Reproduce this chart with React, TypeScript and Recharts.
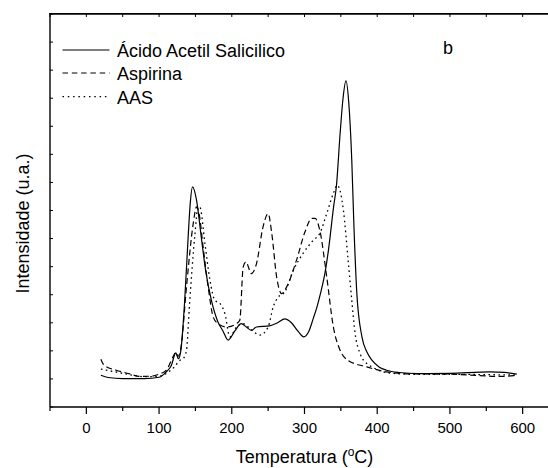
import React from 'react';
import { LineChart, Line, XAxis, YAxis, Legend } from 'recharts';

// Temperatures (°C) and intensities (a.u.)
const acidoT = [20, 30, 50, 80, 100, 110, 117, 123, 126.6, 130, 135, 140, 143, 146, 151.5, 158, 164, 172, 181, 188, 195, 204, 213, 220, 227, 234, 252, 263, 273, 282, 291, 299, 306, 312, 317, 322, 328, 333, 340, 344, 349, 353, 357, 361, 365, 368, 372, 379, 386, 393, 403, 413, 430, 457, 500, 555, 575, 592];
const acidoV = [1.13, 1.05, 1.01, 1.01, 1.06, 1.25, 1.49, 1.93, 1.72, 2.02, 3.69, 6.06, 7.3, 7.84, 7.37, 6.06, 4.87, 3.8, 3.03, 2.7, 2.38, 2.7, 2.97, 2.85, 2.73, 2.85, 2.89, 3.0, 3.14, 3.0, 2.7, 2.5, 2.7, 3.15, 3.55, 4.05, 4.75, 5.6, 7.13, 7.9, 9.75, 11.0, 11.62, 10.8, 8.8, 6.42, 4.04, 2.5, 1.95, 1.66, 1.42, 1.31, 1.23, 1.19, 1.2, 1.25, 1.23, 1.17];

const aspirinaT = [20, 24, 41, 60, 73, 90, 100, 110, 119, 123, 126, 130, 137.7, 147, 151.5, 155, 160.6, 167.5, 174.4, 181, 192.8, 206.6, 211, 215.7, 219.4, 227, 234, 243, 250, 255, 261.7, 268.6, 275.5, 289, 300.7, 310, 314.5, 321, 330.6, 339.7, 349, 360, 385.7, 413, 450, 500, 540, 569, 590];
const aspirinaV = [1.7, 1.5, 1.31, 1.18, 1.09, 1.1, 1.17, 1.31, 1.78, 1.95, 1.8, 2.1, 4.28, 6.54, 7.13, 6.9, 5.7, 4.28, 3.21, 2.97, 2.85, 2.97, 3.09, 4.99, 5.17, 4.75, 5.11, 6.42, 6.89, 6.18, 4.63, 4.04, 4.28, 5.23, 6.24, 6.72, 6.72, 6.3, 4.63, 2.85, 2.02, 1.66, 1.43, 1.25, 1.18, 1.17, 1.12, 1.09, 1.12];

const aasT = [20, 40, 60, 80, 100, 110, 120, 128.5, 134, 137.7, 142, 149, 153.7, 156, 163, 170, 176.7, 183.6, 190.5, 197.4, 206.6, 215.7, 225, 238.7, 250, 257, 264, 273, 284.6, 298, 312, 321, 330.6, 339.7, 345, 353.5, 360, 365, 369.6, 376.5, 385.7, 392.6, 405, 420, 460, 520, 560, 590];
const aasV = [1.35, 1.25, 1.15, 1.08, 1.1, 1.2, 1.4, 1.66, 1.75, 2.02, 3.69, 6.06, 7.13, 7.13, 5.83, 4.52, 3.8, 3.69, 3.33, 2.5, 2.85, 2.97, 2.79, 2.56, 2.85, 3.57, 3.92, 4.1, 4.87, 5.47, 5.94, 6.18, 6.89, 7.61, 7.9, 7.01, 5.23, 3.8, 2.62, 1.9, 1.55, 1.43, 1.28, 1.2, 1.16, 1.16, 1.15, 1.14];

const xTicks = [-50, 0, 50, 100, 150, 200, 250, 300, 350, 400, 450, 500, 550, 600, 650];
const yTicks = [0, 1, 2, 3, 4, 5, 6, 7, 8, 9, 10, 11, 12, 13, 14];
const xMin = -50;
const xMax = 650;
const yMax = 14;

const seriesNames = ['Ácido Acetil Salicilico', 'Aspirina', 'AAS'];
const xTitle = 'Temperatura (';
const yTitle = 'Intensidade (u.a.)';
const panelLabel = 'b';

const toPoints = (t: number[], v: number[]) => t.map((x, i) => ({ t: x, v: v[i] }));
const acidoData = toPoints(acidoT, acidoV);
const aspirinaData = toPoints(aspirinaT, aspirinaV);
const aasData = toPoints(aasT, aasV);

const FONT = '"Liberation Sans", Arial, sans-serif';
const DASH = '6 3.5';
const DOT = '1.6 3.4';
const PLOT_TOP = 14;
const PLOT_LEFT = 50;

const BottomTick = (props: any) => {
  const { x, y, payload } = props;
  const major = payload.value % 100 === 0;
  return (
    <g>
      <line x1={x} x2={x} y1={y} y2={y + (major ? 7 : 4)} stroke="#000" strokeWidth={1.2} />
      <line x1={x} x2={x} y1={PLOT_TOP} y2={PLOT_TOP + 3} stroke="#000" strokeWidth={1} />
      {major && (
        <text x={x} y={y + 26} textAnchor="middle" fontSize={15} fontFamily={FONT} fill="#000">
          {payload.value}
        </text>
      )}
    </g>
  );
};

const LeftTick = (props: any) => {
  const { x, y } = props;
  return <line x1={x} x2={x + 3} y1={y} y2={y} stroke="#000" strokeWidth={1} />;
};

const XTitle = (props: any) => {
  const vb = props.viewBox || { x: 50, width: 509 };
  const cx = vb.x + vb.width / 2;
  return (
    <g>
      <line x1={vb.x} x2={vb.x + vb.width} y1={PLOT_TOP} y2={PLOT_TOP} stroke="#000" strokeWidth={1.4} />
      <text x={cx} y={463} textAnchor="middle" fontSize={18} fontFamily={FONT} fill="#000">
        {xTitle}
        <tspan dy={-7} fontSize={12}>o</tspan>
        <tspan dy={7}>C)</tspan>
      </text>
      <text x={448} y={53.5} textAnchor="middle" fontSize={18} fontFamily={FONT} fill="#000">
        {panelLabel}
      </text>
    </g>
  );
};

const YTitle = () => (
  <text
    x={23}
    y={223.5}
    transform="rotate(-90 23 223.5)"
    textAnchor="middle"
    dominantBaseline="central"
    fontSize={18}
    fontFamily={FONT}
    fill="#000"
  >
    {yTitle}
  </text>
);

const LegendContent = () => {
  const rows = [
    { y: 50, dash: undefined as string | undefined },
    { y: 73, dash: '5.5 3.8' },
    { y: 96.7, dash: '1.5 3.8' },
  ];
  return (
    <svg width={320} height={110} style={{ display: 'block' }}>
      {rows.map((r, i) => (
        <g key={i}>
          <line x1={62.5} x2={109.5} y1={r.y} y2={r.y} stroke="#000" strokeWidth={1.2} strokeDasharray={r.dash} />
          <text x={117} y={r.y + 7} fontSize={18} fontFamily={FONT} fill="#000">
            {seriesNames[i]}
          </text>
        </g>
      ))}
    </svg>
  );
};

export default function App() {
  return (
    <div style={{ position: 'absolute', left: 0, top: 0, width: 548, height: 468, overflow: 'hidden', background: '#fff' }}>
      <LineChart width={570} height={468} margin={{ top: PLOT_TOP, right: 11, left: PLOT_LEFT - 1, bottom: 21 }}>
        <XAxis
          dataKey="t"
          type="number"
          domain={[xMin, xMax]}
          ticks={xTicks}
          allowDataOverflow
          interval={0}
          height={40}
          tickSize={0}
          tickMargin={0}
          tickLine={false}
          tick={<BottomTick />}
          axisLine={{ stroke: '#000', strokeWidth: 1.4 }}
          label={<XTitle />}
        />
        <YAxis
          type="number"
          domain={[0, yMax]}
          ticks={yTicks}
          allowDataOverflow
          interval={0}
          width={1}
          tickSize={0}
          tickMargin={0}
          tickLine={false}
          tick={<LeftTick />}
          axisLine={{ stroke: '#000', strokeWidth: 1.4 }}
          label={<YTitle />}
        />
        <Legend
          layout="vertical"
          align="center"
          verticalAlign="middle"
          content={<LegendContent />}
          wrapperStyle={{ position: 'absolute', left: 0, top: 0, width: 320, height: 110 }}
        />
        <Line
          data={acidoData}
          dataKey="v"
          name={seriesNames[0]}
          type="monotone"
          stroke="#000"
          strokeWidth={1.2}
          dot={false}
          isAnimationActive={false}
        />
        <Line
          data={aspirinaData}
          dataKey="v"
          name={seriesNames[1]}
          type="monotone"
          stroke="#000"
          strokeWidth={1.2}
          strokeDasharray={DASH}
          dot={false}
          isAnimationActive={false}
        />
        <Line
          data={aasData}
          dataKey="v"
          name={seriesNames[2]}
          type="monotone"
          stroke="#000"
          strokeWidth={1.3}
          strokeDasharray={DOT}
          dot={false}
          isAnimationActive={false}
        />
      </LineChart>
      <div
        style={{
          position: 'absolute',
          left: PLOT_LEFT - 1,
          top: PLOT_TOP - 1,
          width: 548 - PLOT_LEFT + 1,
          height: 0,
          borderTop: '1.5px solid #000',
          pointerEvents: 'none',
        }}
      />
    </div>
  );
}
